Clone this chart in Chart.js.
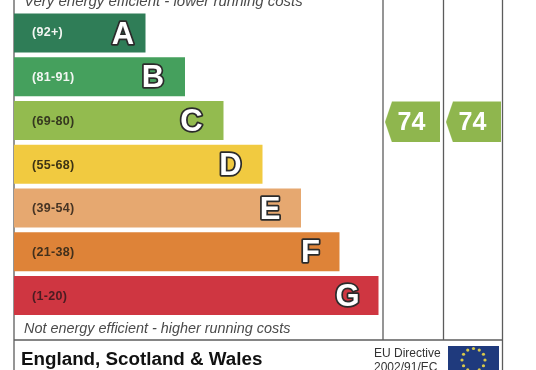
<!DOCTYPE html>
<html><head><meta charset="utf-8">
<style>html,body{margin:0;padding:0;background:#fff}#w{position:absolute;left:0;top:0;width:536px;height:370px;overflow:hidden}canvas{display:block;filter:blur(0.35px)}</style>
<script src="https://cdn.jsdelivr.net/npm/chart.js@4"></script></head>
<body><div id="w"><canvas id="c" width="536" height="370"></canvas></div>
<script>
const bands=['A','B','C','D','E','F','G'];
const ranges=['(92+)','(81-91)','(69-80)','(55-68)','(39-54)','(21-38)','(1-20)'];
const barEnds=[145.5,185,223.5,262.5,301,339.5,378.5];
const barColors=['#2f7d57','#45a05d','#93bb4f','#f1ca40','#e6a870','#de8338','#cf3641'];
const rangeColors=['#f2f6f2','#f2f6f2','#35381f','#3d3314','#463424','#42301c','#4a1c22'];
const scoreBand='C';
const currentScore=74, potentialScore=74;
const columnCentres=[412.5,473.5];
const topNote='Very energy efficient - lower running costs';
const bottomNote='Not energy efficient - higher running costs';
const region='England, Scotland & Wales';
const directive=['EU Directive','2002/91/EC'];

function pentagon(w,h,tip,col,drop){
  const c=document.createElement('canvas');c.width=w;c.height=h+2*drop;
  const g=c.getContext('2d');g.translate(0,2*drop);g.fillStyle=col;g.beginPath();
  g.moveTo(0,h/2);g.lineTo(tip,0);g.lineTo(w,0);g.lineTo(w,h);g.lineTo(tip,h);g.closePath();g.fill();
  return c;
}
const arrow=pentagon(55,41,7,'#8fb64e',1.5);

const decor={id:'decor',
 beforeDatasetsDraw(ch){
  const g=ch.ctx,x=ch.scales.x;g.save();
  g.strokeStyle='#5c5c5c';g.lineWidth=1.3;
  const px=v=>x.getPixelForValue(v);
  const line=(a,b,c,d)=>{g.beginPath();g.moveTo(a,b);g.lineTo(c,d);g.stroke();};
  line(px(14),0,px(14),370);line(px(502.5),0,px(502.5),370);
  line(px(383),0,px(383),340);line(px(443.5),0,px(443.5),340);
  line(px(14),340,px(502.5),340);
  g.restore();
 },
 afterDatasetsDraw(ch){
  const g=ch.ctx;g.save();
  g.textBaseline='middle';
  const bars=ch.getDatasetMeta(0).data;
  const inset={A:22.5,E:31,F:29,G:31};
  bars.forEach((b,i)=>{
   g.textAlign='left';g.font='bold 12.5px "Liberation Sans"';g.letterSpacing='0.3px';g.fillStyle=rangeColors[i];
   g.fillText(ranges[i],32,b.y+(i==0?0:1));
   g.letterSpacing='0px';
   const cx=b.x-(inset[bands[i]]||32);
   g.textAlign='center';g.font='bold 31px "Liberation Sans"';g.lineJoin='round';
   g.lineWidth=3.5;g.strokeStyle='#2b2b2b';
   g.strokeText(bands[i],cx,b.y+2);
   g.fillStyle='#fff';g.fillText(bands[i],cx,b.y+2);
  });
  [1,2].forEach(k=>{
   const p=ch.getDatasetMeta(k).data[0];
   g.textAlign='center';g.font='bold 25px "Liberation Sans"';g.fillStyle='#fff';
   g.fillText(String(ch.data.datasets[k].data[0].label),p.x-1,p.y+2.5);
  });
  g.textAlign='left';g.fillStyle='#4a4a4a';
  g.font='italic 15px "Liberation Sans"';g.fillText(topNote,24,2);
  g.font='italic 14.4px "Liberation Sans"';g.fillText(bottomNote,24,329);
  g.fillStyle='#111';g.font='bold 18.8px "Liberation Sans"';
  g.fillText(region,21,360);
  g.fillStyle='#333';g.font='12px "Liberation Sans"';
  g.fillText(directive[0],374,354);g.fillText(directive[1],374,368);
  g.fillStyle='#1f3a7d';g.fillRect(448,346,51,30);
  g.fillStyle='#d8c84a';
  for(let i=0;i<12;i++){const a=i*Math.PI/6;g.beginPath();g.arc(473.5+11.5*Math.cos(a),360+11.5*Math.sin(a),1.6,0,7);g.fill();}
  g.restore();
 }};

new Chart(document.getElementById('c'),{
 data:{labels:bands,datasets:[
  {type:'bar',indexAxis:'y',data:barEnds,base:14,backgroundColor:barColors,borderWidth:0,barPercentage:39/43.75,categoryPercentage:1},
  {type:'line',indexAxis:'y',showLine:false,data:[{x:columnCentres[0],y:scoreBand,label:currentScore}],pointStyle:arrow,pointRadius:20,clip:false},
  {type:'line',indexAxis:'y',showLine:false,data:[{x:columnCentres[1],y:scoreBand,label:potentialScore}],pointStyle:arrow,pointRadius:20,clip:false}
 ]},
 options:{responsive:false,animation:false,indexAxis:'y',devicePixelRatio:1,
  layout:{autoPadding:false,padding:{top:11.1,bottom:52.6,left:0,right:0}},
  plugins:{legend:{display:false},tooltip:{enabled:false}},
  scales:{x:{type:'linear',min:0,max:536,display:false},
          y:{type:'category',labels:bands,display:false}}},
 plugins:[decor]});
</script></body></html>
